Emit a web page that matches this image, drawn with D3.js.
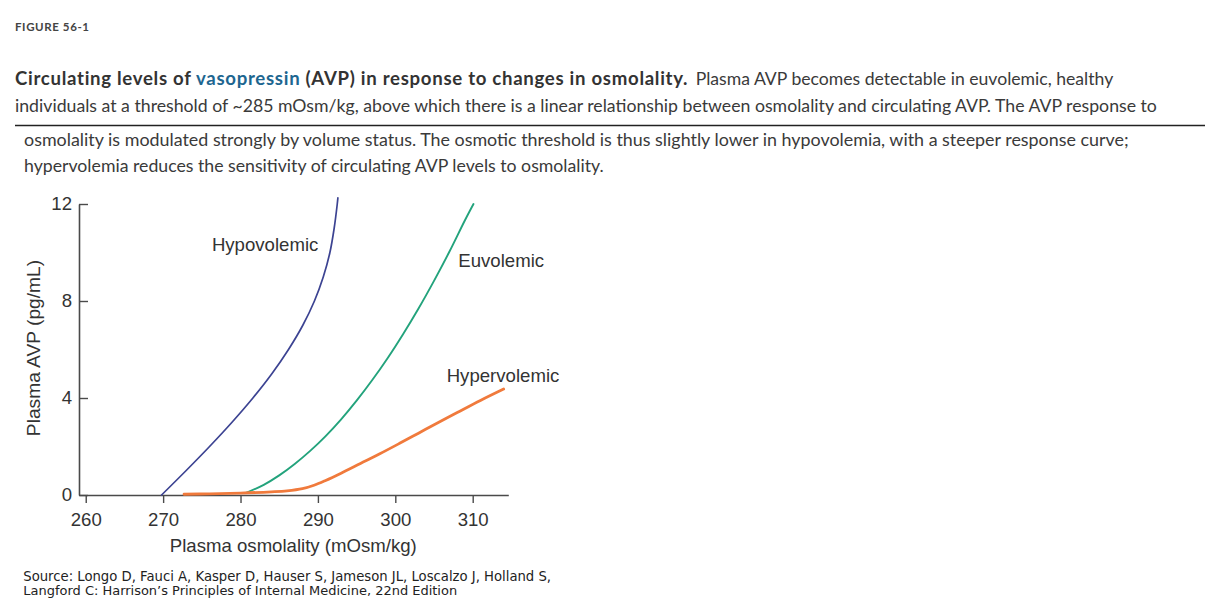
<!DOCTYPE html>
<html>
<head>
<meta charset="utf-8">
<script src="https://cdn.jsdelivr.net/npm/d3@7"></script>
<style>
  html, body { margin: 0; padding: 0; background: #fff; }
  svg { display: block; }
</style>
</head>
<body>
<svg id="chart" width="1220" height="616"></svg>
<script>
// ---------------- data ----------------
const xTicks = [260, 270, 280, 290, 300, 310];
const yTicks = [0, 4, 8, 12];
const seriesNames = ["Euvolemic", "Hypovolemic", "Hypervolemic"];
// [osmolality (mOsm/kg), plasma AVP (pg/mL)]
const hypovolemic = [
  [269.8, 0], [272.95, 1], [276.0, 2], [278.9, 3], [281.6, 4], [284.05, 5],
  [286.2, 6], [288.05, 7], [289.55, 8], [290.7, 9], [291.55, 10], [292.1, 11],
  [292.5, 12], [292.58, 12.25]
];
const euvolemic = [
  [280.8, 0.1], [283, 0.42], [285, 0.81], [287, 1.28], [289, 1.82], [291, 2.43],
  [293, 3.12], [295, 3.89], [297, 4.73], [299, 5.64], [301, 6.63], [303, 7.69],
  [305, 8.83], [307, 10.04], [309, 11.33], [310.1, 12.0]
];
const hypervolemic = [
  [272.7, 0.03], [276, 0.05], [280, 0.08], [284, 0.13], [286, 0.17], [288, 0.26],
  [289.5, 0.4], [291, 0.6], [293, 0.9], [295.5, 1.3], [298, 1.7], [300.5, 2.12],
  [303, 2.55], [305.5, 2.98], [308, 3.4], [311, 3.9], [314, 4.37]
];
const seriesLabels = [
  { text: "Hypovolemic", osm: 276.3, avp: 10.07 },
  { text: "Euvolemic", osm: 308.14, avp: 9.41 },
  { text: "Hypervolemic", osm: 306.64, avp: 4.64 }
];
const xTitle = "Plasma osmolality (mOsm/kg)";
const yTitle = "Plasma AVP (pg/mL)";
const figLabel = "FIGURE 56-1";
const captionBold = ["Circulating levels of ", "vasopressin", " (AVP) in response to changes in osmolality."];
const captionLines = [
  "Plasma AVP becomes detectable in euvolemic, healthy",
  "individuals at a threshold of ~285 mOsm/kg, above which there is a linear relationship between osmolality and circulating AVP. The AVP response to",
  "osmolality is modulated strongly by volume status. The osmotic threshold is thus slightly lower in hypovolemia, with a steeper response curve;",
  "hypervolemia reduces the sensitivity of circulating AVP levels to osmolality."
];
const sourceLines = [
  "Source: Longo D, Fauci A, Kasper D, Hauser S, Jameson JL, Loscalzo J, Holland S,",
  "Langford C: Harrison\u2019s Principles of Internal Medicine, 22nd Edition"
];

// ---------------- drawing ----------------
const svg = d3.select("#chart");
svg.append("rect").attr("width", 1220).attr("height", 616).attr("fill", "#fff");

const capFont = "Lato, 'Open Sans', sans-serif";
function fit(sel, target) {
  const w = sel.node().getComputedTextLength();
  const fs = parseFloat(sel.attr("font-size"));
  sel.attr("font-size", (fs * target / w).toFixed(3));
  return sel;
}

// Figure label
fit(svg.append("text").text(figLabel)
  .attr("x", 15).attr("y", 31)
  .attr("font-family", capFont).attr("font-weight", 700)
  .attr("font-size", 11).attr("letter-spacing", 0.6)
  .attr("fill", "#444"), 75);

// Caption line 1 (bold part)
const bold = svg.append("text").attr("x", 15).attr("y", 85)
  .attr("font-family", capFont).attr("font-weight", 700)
  .attr("font-size", 18).attr("letter-spacing", 0.7).attr("fill", "#333");
captionBold.forEach((t, i) => {
  bold.append("tspan").text(t).attr("fill", i === 1 ? "#1d6690" : "#333");
});
fit(bold, 675.7);

const capColor = "#3a3a3a";
const lineSpec = [
  { x: 695.7, y: 85, w: 417.6 },
  { x: 15, y: 111.7, w: 1143.3 },
  { x: 24, y: 146, w: 1105.3 },
  { x: 24, y: 172, w: 580 }
];
captionLines.forEach((t, i) => {
  const s = lineSpec[i];
  fit(svg.append("text").text(t).attr("x", s.x).attr("y", s.y)
    .attr("font-family", capFont).attr("font-size", 18)
    .attr("fill", capColor), s.w);
});

// horizontal rule
svg.append("line").attr("x1", 15).attr("x2", 1205).attr("y1", 125.5).attr("y2", 125.5)
  .attr("stroke", "#222").attr("stroke-width", 1.3);

// ---------------- chart ----------------
const x = d3.scaleLinear().domain([259.13, 314.6]).range([79, 508.3]);
const y = d3.scaleLinear().domain([0, 12]).range([495, 204]);
const axisColor = "#4a4a4a";
const chartFont = "'Liberation Sans', Arial, Helvetica, sans-serif";
const chartFs = 18.6;

const gx = svg.append("g").attr("transform", `translate(0,${y(0)})`)
  .call(d3.axisBottom(x).tickValues(xTicks).tickFormat(d3.format("d"))
    .tickSizeInner(8).tickSizeOuter(0).tickPadding(10));
const gy = svg.append("g").attr("transform", `translate(${x.range()[0]},0)`)
  .call(d3.axisLeft(y).tickValues(yTicks).tickFormat(d3.format("d"))
    .tickSizeInner(-9).tickSizeOuter(0).tickPadding(7));
[gx, gy].forEach(g => {
  g.select(".domain").attr("stroke", axisColor).attr("stroke-width", 1.6);
  g.selectAll(".tick line").attr("stroke", axisColor).attr("stroke-width", 1.4);
  g.selectAll(".tick text").attr("fill", "#333")
    .attr("font-family", chartFont).attr("font-size", chartFs);
});

// axis titles
svg.append("text").text(xTitle)
  .attr("x", 293.3).attr("y", 552).attr("text-anchor", "middle")
  .attr("font-family", chartFont).attr("font-size", chartFs).attr("fill", "#333");
svg.append("text").text(yTitle)
  .attr("transform", "translate(40,348) rotate(-90)").attr("text-anchor", "middle")
  .attr("font-family", chartFont).attr("font-size", 19.2).attr("fill", "#333");

// curves
const line = d3.line().x(d => x(d[0])).y(d => y(d[1])).curve(d3.curveCatmullRom.alpha(0.5));
const curves = [
  { data: euvolemic, color: "#23a37c", w: 1.9 },
  { data: hypovolemic, color: "#3c4392", w: 1.7 },
  { data: hypervolemic, color: "#f07a3c", w: 2.8 }
];
svg.append("g").selectAll("path").data(curves).join("path")
  .attr("d", d => line(d.data))
  .attr("fill", "none")
  .attr("stroke", d => d.color)
  .attr("stroke-width", d => d.w)
  .attr("stroke-linecap", "round");

// series labels
svg.append("g").selectAll("text").data(seriesLabels).join("text")
  .text(d => d.text)
  .attr("x", d => x(d.osm)).attr("y", d => y(d.avp))
  .attr("font-family", chartFont).attr("font-size", chartFs).attr("fill", "#333");

// source
const srcSpec = [{ y: 581, w: 528 }, { y: 595, w: 434 }];
sourceLines.forEach((t, i) => {
  fit(svg.append("text").text(t).attr("x", 23.3).attr("y", srcSpec[i].y)
    .attr("font-family", "'DejaVu Sans', Verdana, sans-serif").attr("font-size", 11)
    .attr("fill", "#222"), srcSpec[i].w);
});
</script>
</body>
</html>
